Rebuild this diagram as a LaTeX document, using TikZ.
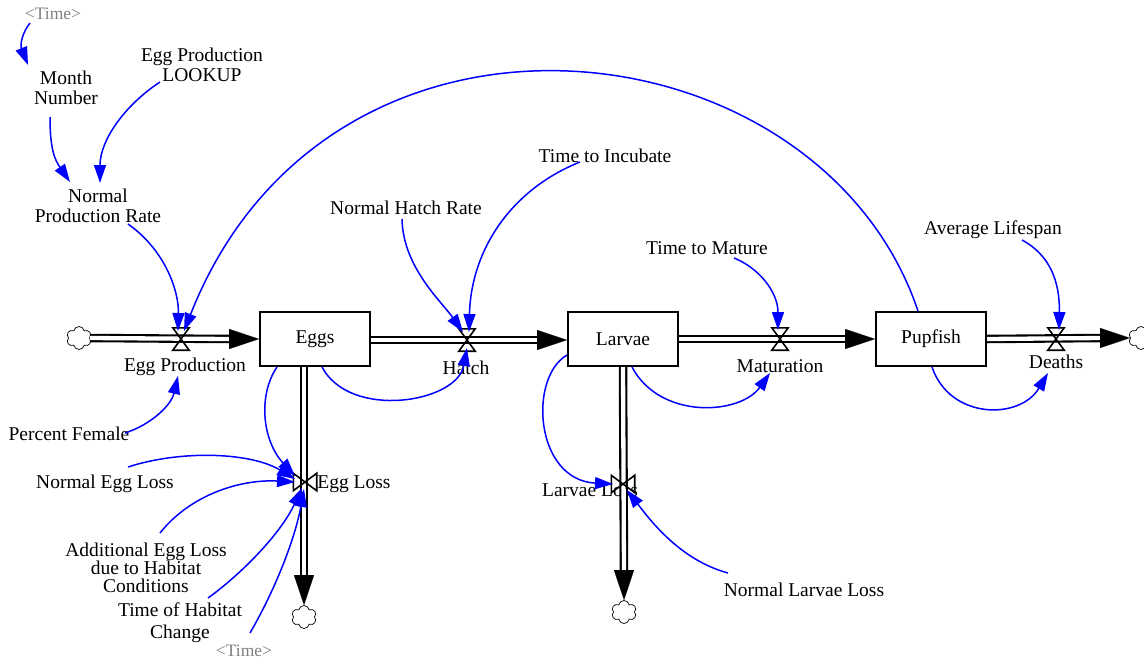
\documentclass[tikz,border=0pt]{standalone}
\usepackage{fontspec}
\setmainfont{Liberation Serif}
\usetikzlibrary{arrows.meta,calc,shapes.symbols}
\begin{document}
\begin{tikzpicture}[x=1pt,y=-1pt,
  lbl/.style={inner sep=1pt,align=center,font=\fontsize{19.5}{20.5}\selectfont},
  shadow/.style={lbl,text=gray,font=\fontsize{17.5}{19}\selectfont},
  stock/.style={draw,line width=2pt,minimum width=110pt,minimum height=54pt,inner sep=0pt,font=\fontsize{19.5}{20.5}\selectfont},
  valvebox/.style={inner sep=0pt,minimum width=16pt,minimum height=22pt},
  hvalvebox/.style={inner sep=0pt,minimum width=23pt,minimum height=17pt},
  valveline/.style={draw,line width=1.6pt,line join=miter},
  sink/.style={cloud,cloud puffs=6,cloud puff arc=160,aspect=1.1,draw,line width=0.7pt,minimum width=25pt,minimum height=23pt,inner sep=0pt},
  pipe/.style={line width=8.5pt,draw=black,postaction={draw=white,line width=4.3pt}},
  flowtip/.style={line width=0.1pt,-{Triangle[length=30pt,width=20pt]}},
  infl/.style={draw=blue,line width=1.5pt,-{Triangle[length=18pt,width=12pt]}}
]
\fill[white] (0,0) rectangle (1144,665);
\useasboundingbox (0,0) rectangle (1144,665);

% stocks
\node[stock] (eggs) at (315,339) {Eggs};
\node[stock] (larvae) at (623,339) {Larvae};
\node[stock] (pupfish) at (931,339) {Pupfish};

% clouds
\node[sink] (cL) at (79,338) {};
\node[sink] (cEL) at (304,617) {};
\node[sink] (cLL) at (624,612) {};
\node[sink] (cR) at (1141,338) {};

% valves
\node[valvebox] (vEP) at (181,339) {};
\node[valvebox] (vH) at (467,340) {};
\node[valvebox] (vM) at (780,339) {};
\node[valvebox] (vD) at (1056,339) {};
\node[hvalvebox] (vEL) at (305,482) {};
\node[hvalvebox] (vLL) at (623,484) {};

% labels
\node[shadow] (time1) at (53,14) {<Time>};
\node[lbl] (month) at (66,88) {Month\\Number};
\node[lbl] (lookup) at (202,65) {Egg Production\\LOOKUP};
\node[lbl] (npr) at (98,206) {Normal\\Production Rate};
\node[lbl] (eplbl) at (185,367) {Egg Production};
\node[lbl] (pf) at (69,434) {Percent Female};
\node[lbl] (nel) at (105,484) {Normal Egg Loss};
\node[lbl,font=\fontsize{19.5}{18}\selectfont] (aelhc) at (146,568) {Additional Egg Loss\\due to Habitat\\Conditions};
\node[lbl,font=\fontsize{19.5}{22}\selectfont] (tohc) at (180,623) {Time of Habitat\\Change};
\node[shadow] (time2) at (244,651) {<Time>};
\node[lbl] (ellbl) at (354,484) {Egg Loss};
\node[lbl] (nhr) at (406,208) {Normal Hatch Rate};
\node[lbl] (tti) at (605,156) {Time to Incubate};
\node[lbl] (hatchlbl) at (466,368) {Hatch};
\node[lbl] (ttm) at (707,248) {Time to Mature};
\node[lbl] (matlbl) at (780,366) {Maturation};
\node[lbl] (lllbl) at (590,490) {Larvae Loss};
\node[lbl] (nll) at (804,590) {Normal Larvae Loss};
\node[lbl] (al) at (993,230) {Average Lifespan};
\node[lbl] (deathslbl) at (1056,362) {Deaths};

% flow pipes
\draw[pipe] (cL.east) -- ($(eggs.west)+(-29,0)$);
\draw[flowtip] ($(eggs.west)+(-30,0)$) -- (eggs.west);
\draw[pipe] ($(eggs.east)+(0,1)$) -- ($(larvae.west)+(-29,1)$);
\draw[flowtip] ($(larvae.west)+(-30,1)$) -- ($(larvae.west)+(0,1)$);
\draw[pipe] (larvae.east) -- ($(pupfish.west)+(-29,0)$);
\draw[flowtip] ($(pupfish.west)+(-30,0)$) -- (pupfish.west);
\draw[pipe] (pupfish.east) -- ($(cR.west)+(-29,0)$);
\draw[flowtip] ($(cR.west)+(-30,0)$) -- (cR.west);
\draw[pipe] ($(eggs.south)+(-11,0)$) -- ($(cEL.north)+(0,-27)$);
\draw[flowtip] ($(cEL.north)+(0,-28)$) -- (cEL.north);
\draw[pipe] (larvae.south) -- ($(cLL.north)+(0,-27)$);
\draw[flowtip] ($(cLL.north)+(0,-28)$) -- (cLL.north);

% valve symbols
\foreach \v in {vEP,vH,vM,vD}
  \draw[valveline] (\v.north west) -- (\v.north east) -- (\v.south west) -- (\v.south east) -- cycle;
\foreach \v in {vEL,vLL}
  \draw[valveline] (\v.north west) -- (\v.south west) -- (\v.north east) -- (\v.south east) -- cycle;

% influence arrows
\draw[infl] ($(time1)+(-23,9)$) .. controls +(-8,10) and +(-8,-20) .. ($(month)+(-38,-23)$);
\draw[infl] ($(month)+(-16,29)$) .. controls +(0,33) and +(-15,-22) .. ($(npr)+(-28,-24)$);
\draw[infl] ($(lookup)+(-42,17)$) .. controls +(-35,23) and +(0,-43) .. ($(npr)+(2,-23)$);
\draw[infl] ($(npr)+(30,18)$) .. controls +(37,26) and +(1,-40) .. ($(vEP)+(-3,-8)$);
\draw[infl] ($(pupfish)+(-13,-28)$) .. controls +(-98,-291) and +(146,-370) .. ($(vEP)+(3,-8)$);
\draw[infl] ($(pf)+(56,-1)$) .. controls +(25,-8) and +(-7,30) .. ($(eplbl)+(-7,9)$);
\draw[infl] ($(nhr)+(-4,11)$) .. controls +(1,48) and +(-22,-31) .. ($(vH)+(-4,-8)$);
\draw[infl] ($(tti)+(-25,6)$) .. controls +(-70,28) and +(2,-81) .. ($(vH)+(2,-8)$);
\draw[infl] ($(eggs)+(7,28)$) .. controls +(28,53) and +(-10,55) .. ($(vH)+(0,8)$);
\draw[infl] ($(eggs)+(-38,28)$) .. controls +(-19,28) and +(-33,-36) .. ($(vEL)+(-10,-6)$);
\draw[infl] ($(nel)+(23,-17)$) .. controls +(52,-17) and +(-45,-27) .. ($(vEL)+(-10,-3)$);
\draw[infl] ($(aelhc)+(14,-35)$) .. controls +(30,-38) and +(-55,-3) .. ($(vEL)+(-10,0)$);
\draw[infl] ($(tohc)+(28,-25)$) .. controls +(32,-23) and +(-22,47) .. ($(vEL)+(-3,6)$);
\draw[infl] ($(time2)+(6,-18)$) .. controls +(25,-43) and +(-9,50) .. ($(vEL)+(-1,7)$);
\draw[infl] ($(ttm)+(27,10)$) .. controls +(25,10) and +(0,-38) .. ($(vM)+(-2,-9)$);
\draw[infl] ($(larvae)+(9,28)$) .. controls +(28,53) and +(-30,42) .. ($(matlbl)+(-10,7)$);
\draw[infl] ($(larvae)+(-56,16)$) .. controls +(-39,23) and +(-78,-4) .. ($(vLL)+(-10,0)$);
\draw[infl] ($(nll)+(-76,-17)$) .. controls +(-48,-13) and +(23,30) .. ($(vLL)+(4,6)$);
\draw[infl] ($(al)+(29,10)$) .. controls +(28,15) and +(1,-48) .. ($(vD)+(3,-9)$);
\draw[infl] ($(pupfish)+(1,28)$) .. controls +(18,53) and +(-28,47) .. ($(deathslbl)+(-8,11)$);
\end{tikzpicture}
\end{document}
